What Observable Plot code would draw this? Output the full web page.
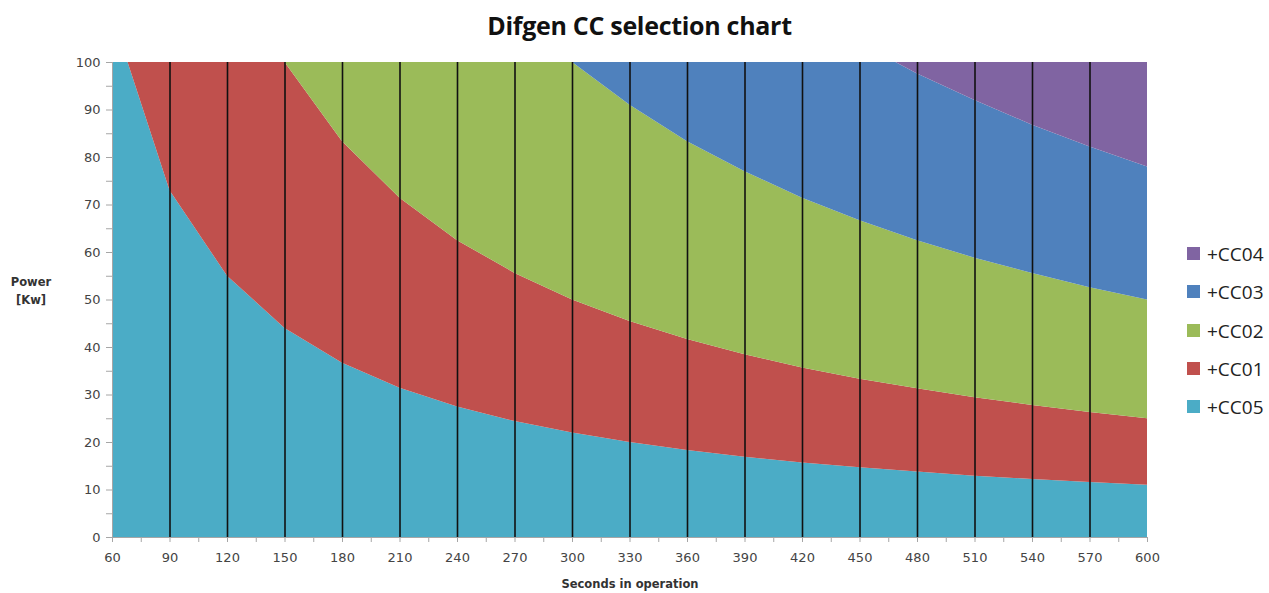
<!DOCTYPE html>
<html>
<head>
<meta charset="utf-8">
<script src="https://cdn.jsdelivr.net/npm/d3@7"></script>
<script src="https://cdn.jsdelivr.net/npm/@observablehq/plot@0.6"></script>
<style>
  body { margin: 0; background: #fff; width: 1269px; height: 593px; overflow: hidden; position: relative; font-family: "DejaVu Sans", sans-serif; }
  #title { height: 50px; line-height: 50px; text-align: center; font-family: "Open Sans", sans-serif; font-weight: 700; font-size: 25px; letter-spacing: -0.3px; color: #111; padding-left: 10px; }
  #chart { position: absolute; left: 0; top: 50px; }
  .lab { position: absolute; font-weight: bold; font-size: 11.5px; color: #333; text-align: center; }
  #legend { position: absolute; left: 1187px; top: 241px; }
  .item { height: 38.3px; display: flex; align-items: flex-start; font-family: "Open Sans", sans-serif; font-size: 19px; color: #222; }
  .sw { width: 13px; height: 13px; margin-top: 6px; margin-right: 7px; }
</style>
</head>
<body>
<div id="title">Difgen CC selection chart</div>
<div id="chart"></div>
<div class="lab" style="left:8px; top:273px; width:46px; line-height:18px;">Power<br>[Kw]</div>
<div class="lab" style="left:530px; top:577px; width:200px;">Seconds in operation</div>
<div id="legend"></div>
<script>
// Seconds in operation (category points)
const seconds = [60, 90, 120, 150, 180, 210, 240, 270, 300, 330, 360, 390, 420, 450, 480, 510, 540, 570, 600];
// Upper boundary (cumulative) of each band
const topCC05 = [110, 73, 55, 44, 36.7, 31.4, 27.5, 24.4, 22, 20, 18.3, 16.9, 15.7, 14.7, 13.8, 12.9, 12.2, 11.6, 11];
const topCC01 = [250, 167, 125, 100, 83.3, 71.4, 62.5, 55.6, 50, 45.5, 41.7, 38.5, 35.7, 33.3, 31.3, 29.4, 27.8, 26.3, 25];
const topCC02 = [500, 333, 250, 200, 167, 143, 125, 111, 100, 91, 83.3, 77, 71.4, 66.7, 62.5, 58.8, 55.6, 52.6, 50];
const topCC03 = [780, 520, 390, 312, 260, 223, 195, 173, 156, 142, 130, 120, 111.5, 104, 97.6, 92, 86.8, 82.2, 78];
const topCC04 = [100, 100, 100, 100, 100, 100, 100, 100, 100, 100, 100, 100, 100, 100, 100, 100, 100, 100, 100];

const seriesNames = ["+CC05", "+CC01", "+CC02", "+CC03", "+CC04"];
const seriesColors = ["#4bacc6", "#c0504d", "#9bbb59", "#4f81bd", "#8064a2"];
const legendOrder = ["+CC04", "+CC03", "+CC02", "+CC01", "+CC05"];
const xTicks = [60, 75, 90, 105, 120, 135, 150, 165, 180, 195, 210, 225, 240, 255, 270, 285, 300, 315, 330, 345, 360, 375, 390, 405, 420, 435, 450, 465, 480, 495, 510, 525, 540, 555, 570, 585, 600];
const yTicks = [0, 5, 10, 15, 20, 25, 30, 35, 40, 45, 50, 55, 60, 65, 70, 75, 80, 85, 90, 95, 100];
const gridX = [90, 120, 150, 180, 210, 240, 270, 300, 330, 360, 390, 420, 450, 480, 510, 540, 570];

const tops = [topCC05, topCC01, topCC02, topCC03, topCC04];
const rows = [];
seriesNames.forEach((name, si) => {
  seconds.forEach((s, i) => {
    rows.push({series: name, x: s, y1: si === 0 ? 0 : tops[si - 1][i], y2: tops[si][i]});
  });
});

const plot = Plot.plot({
  width: 1269,
  height: 543,
  marginTop: 12,
  marginBottom: 56,
  marginLeft: 112,
  marginRight: 122,
  style: {fontFamily: "DejaVu Sans, sans-serif", fontSize: "13px", color: "#444"},
  x: {domain: [60, 600], label: null},
  y: {domain: [0, 100], label: null},
  color: {domain: seriesNames, range: seriesColors},
  marks: [
    Plot.areaY(rows, {x: "x", y1: "y1", y2: "y2", z: "series", fill: "series", clip: true, curve: "linear"}),
    Plot.ruleX(gridX, {stroke: "#111", strokeWidth: 1.6}),
    Plot.ruleX([60], {stroke: "#a6a6a6", strokeWidth: 1}),
    Plot.ruleY([0], {stroke: "#a6a6a6", strokeWidth: 1}),
    Plot.axisX({ticks: xTicks, tickSize: 5, tickPadding: 10, stroke: "#a6a6a6", tickFormat: d => d % 30 === 0 ? d : "", fill: "#444"}),
    Plot.axisY({ticks: yTicks, tickSize: 6, tickPadding: 6, stroke: "#a6a6a6", tickFormat: d => d % 10 === 0 ? d : "", fill: "#444"})
  ]
});
document.getElementById("chart").appendChild(plot);

const legend = document.getElementById("legend");
legendOrder.forEach(name => {
  const idx = seriesNames.indexOf(name);
  const item = document.createElement("div");
  item.className = "item";
  const sw = document.createElement("div");
  sw.className = "sw";
  sw.style.background = seriesColors[idx];
  const t = document.createElement("span");
  t.textContent = name;
  item.appendChild(sw);
  item.appendChild(t);
  legend.appendChild(item);
});
</script>
</body>
</html>
